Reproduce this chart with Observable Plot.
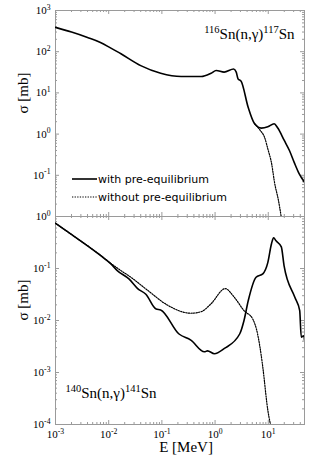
<!DOCTYPE html>
<html><head><meta charset="utf-8">
<script src="https://cdn.jsdelivr.net/npm/d3@7"></script>
<script src="https://cdn.jsdelivr.net/npm/@observablehq/plot@0.6"></script>
<style>
body{margin:0;background:#fff;}
#chart{position:relative;width:330px;height:475px;overflow:hidden;}
#chart > svg{position:absolute;left:0;overflow:visible;}
.legend{position:absolute;left:72px;top:170px;font:11px "DejaVu Sans",sans-serif;color:#000;}
.legend .row{height:18px;display:flex;align-items:center;white-space:nowrap;}
.legend svg{margin-right:1px;}
</style></head><body><div id="chart"></div>
<script>
// ---- data (E in MeV, sigma in mb) ----
const sn116With = [[0.001,390],[0.002,300],[0.004,222],[0.007,168],[0.011,122],[0.017,89],[0.04,46],[0.095,30],[0.23,25],[0.55,25],[0.84,30],[1.05,35],[1.48,32],[2.24,38],[2.5,32],[2.7,22],[3.1,19],[4.2,4.4],[5.5,1.8],[7.4,1.4],[9.8,1.5],[12.9,1.78],[15.1,1.4],[20,0.7],[25,0.4],[31,0.2],[38,0.11],[48,0.068]];
const sn116Without = [[5.5,1.8],[7,1.25],[8.5,0.84],[9.9,0.42],[11.5,0.2],[13.2,0.064],[15.5,0.025],[17.6,0.0095]];
const sn140With = [[0.001,0.74],[0.00155,0.54],[0.007,0.178],[0.011,0.123],[0.0145,0.091],[0.024,0.063],[0.035,0.041],[0.05,0.032],[0.078,0.0166],[0.095,0.016],[0.21,0.0055],[0.35,0.0042],[0.63,0.0025],[0.72,0.0026],[0.97,0.0023],[1.5,0.0029],[2.9,0.0055],[3.5,0.010],[4.2,0.024],[5.9,0.068],[7.9,0.079],[9.8,0.13],[11.5,0.3],[12.6,0.39],[14,0.34],[17.6,0.26],[19.8,0.114],[31.6,0.028],[39,0.0155],[41.7,0.0048],[46.8,0.0051],[48,0.0042]];
const sn140Without = [[0.001,0.74],[0.00155,0.54],[0.007,0.18],[0.011,0.125],[0.017,0.091],[0.026,0.068],[0.054,0.038],[0.13,0.0195],[0.35,0.0138],[0.55,0.0148],[0.84,0.021],[1.55,0.041],[2.3,0.028],[3.5,0.0155],[5.1,0.0107],[6.3,0.0055],[7.6,0.0017],[7.9,0.00126],[9.8,0.00019],[11,0.0001]];

const xDomain = [1e-3, 48];
const yDomainTop = [1e-2, 1e3];
const yDomainBottom = [1e-4, 1];
const xTickLabels = [1e-3, 1e-2, 1e-1, 1e0, 1e1];
const yTickLabelsTop = [1e3, 1e2, 1e1, 1e0, 1e-1];
const yTickLabelsBottom = [1e0, 1e-1, 1e-2, 1e-3, 1e-4];
const titleTop = "^{116}Sn(n,γ)^{117}Sn";
const titleBottom = "^{140}Sn(n,γ)^{141}Sn";
const yLabel = "σ [mb]";
const xLabel = "E [MeV]";
const legendLabels = ["with pre-equilibrium", "without pre-equilibrium"];

// ---- helpers ----
const gray = "#9a9a9a";
const serif = "Liberation Serif, serif";
const W = 330, ML = 55, MR = 26;
const fmtPow = d => `10^{${Math.round(Math.log10(d))}}`;
const isMajor = d => Math.abs(Math.log10(d) - Math.round(Math.log10(d))) < 1e-9;

function frameTicks(xDom, yDom, plotH) {
  const plotW = W - ML - MR;
  const tx = d3.scaleLog().domain(xDom).ticks();
  const ty = d3.scaleLog().domain(yDom).ticks();
  const mx = tx.filter(isMajor), nx = tx.filter(d => !isMajor(d));
  const my = ty.filter(isMajor), ny = ty.filter(d => !isMajor(d));
  const o = {stroke: gray, strokeWidth: 1};
  return [
    Plot.ruleX(mx, {...o, insetTop: plotH - 4}),
    Plot.ruleX(nx, {...o, insetTop: plotH - 2}),
    Plot.ruleX(mx, {...o, insetBottom: plotH - 4}),
    Plot.ruleX(nx, {...o, insetBottom: plotH - 2}),
    Plot.ruleY(my, {...o, insetRight: plotW - 4}),
    Plot.ruleY(ny, {...o, insetRight: plotW - 2}),
    Plot.ruleY(my, {...o, insetLeft: plotW - 4}),
    Plot.ruleY(ny, {...o, insetLeft: plotW - 2}),
    Plot.frame({stroke: gray})
  ];
}

function supify(svg) {
  d3.select(svg).selectAll("text").each(function () {
    const s = this.textContent;
    if (!s.includes("^{")) return;
    const parts = s.split(/(\^\{[^}]*\})/).filter(p => p);
    while (this.firstChild) this.removeChild(this.firstChild);
    let raised = false;
    for (const p of parts) {
      const ts = document.createElementNS("http://www.w3.org/2000/svg", "tspan");
      if (p.startsWith("^{")) {
        ts.textContent = p.slice(2, -1);
        ts.setAttribute("font-size", "0.7em");
        ts.setAttribute("dy", "-0.57em");
        raised = true;
      } else {
        ts.textContent = p;
        if (raised) ts.setAttribute("dy", "0.4em");
        raised = false;
      }
      this.appendChild(ts);
    }
  });
}

const lineStyles = {
  with: {stroke: "black", strokeWidth: 1.6, curve: "monotone-x"},
  without: {stroke: "black", strokeWidth: 1.2, strokeDasharray: "1.3,1.3", curve: "monotone-x"}
};
const txt = {fontFamily: serif, lineAnchor: "middle"};

// ---- top panel ----
const topH = 216;
const topChart = Plot.plot({
  width: W, height: topH, marginLeft: ML, marginRight: MR, marginTop: 10, marginBottom: 0,
  style: {fontFamily: serif, fontSize: "11px", background: "transparent", overflow: "visible"},
  x: {type: "log", domain: xDomain, axis: null},
  y: {type: "log", domain: yDomainTop, axis: null},
  marks: [
    ...frameTicks(xDomain, yDomainTop, topH - 10),
    Plot.line(sn116Without, {x: d => d[0], y: d => d[1], ...lineStyles.without, clip: true}),
    Plot.line(sn116With, {x: d => d[0], y: d => d[1], ...lineStyles.with, clip: true}),
    Plot.axisY({ticks: yTickLabelsTop, tickSize: 0, tickPadding: 5, tickFormat: fmtPow, label: null, fontFamily: serif}),
    Plot.text([titleTop], {...txt, frameAnchor: "top-right", dx: -10, dy: 24, textAnchor: "end", fontSize: 15}),
    Plot.text([yLabel], {...txt, frameAnchor: "left", dx: -32, rotate: -90, fontSize: 15})
  ]
});
topChart.style.top = "0px";
supify(topChart);

// ---- bottom panel ----
const botH = 269;
const bottomChart = Plot.plot({
  width: W, height: botH, marginLeft: ML, marginRight: MR, marginTop: 10, marginBottom: 51,
  style: {fontFamily: serif, fontSize: "11px", background: "transparent", overflow: "visible"},
  x: {type: "log", domain: xDomain, axis: null},
  y: {type: "log", domain: yDomainBottom, axis: null},
  marks: [
    ...frameTicks(xDomain, yDomainBottom, botH - 61),
    Plot.line(sn140Without, {x: d => d[0], y: d => d[1], ...lineStyles.without, clip: true}),
    Plot.line(sn140With, {x: d => d[0], y: d => d[1], ...lineStyles.with, clip: true}),
    Plot.axisY({ticks: yTickLabelsBottom, tickSize: 0, tickPadding: 5, tickFormat: fmtPow, label: null, fontFamily: serif}),
    Plot.axisX({ticks: xTickLabels, tickSize: 0, tickPadding: 6, tickFormat: fmtPow, label: null, fontFamily: serif}),
    Plot.text([titleBottom], {...txt, frameAnchor: "bottom-left", dx: 10, dy: -31, textAnchor: "start", fontSize: 15}),
    Plot.text([yLabel], {...txt, frameAnchor: "left", dx: -32, rotate: -90, fontSize: 15}),
    Plot.text([xLabel], {...txt, frameAnchor: "bottom", dx: 6, dy: 23, fontSize: 15})
  ]
});
bottomChart.style.top = "206px";
supify(bottomChart);

const chart = document.getElementById("chart");
chart.appendChild(topChart);
chart.appendChild(bottomChart);

// ---- legend ----
const legend = document.createElement("div");
legend.className = "legend";
legendLabels.forEach((lab, i) => {
  const row = document.createElement("div");
  row.className = "row";
  const dash = i === 0 ? "" : ` stroke-dasharray="1.3,1.3"`;
  row.innerHTML = `<svg width="25" height="4"><line x1="0" x2="25" y1="2" y2="2" stroke="#000" stroke-width="${i === 0 ? 1.6 : 1.2}"${dash}/></svg><span>${lab}</span>`;
  legend.appendChild(row);
});
chart.appendChild(legend);
</script></body></html>
